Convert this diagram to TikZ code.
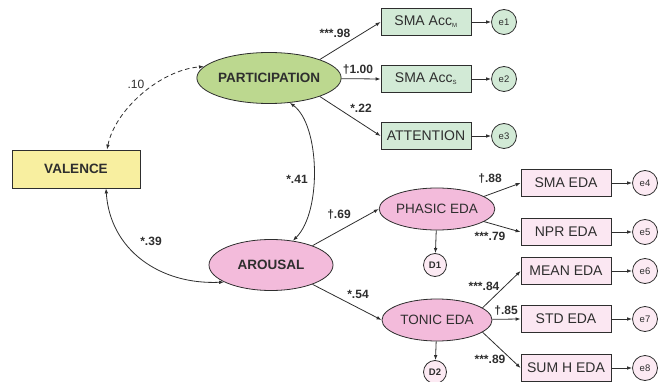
\documentclass[tikz,border=0pt]{standalone}
\usepackage{fontspec}
\setmainfont{Liberation Sans}
\usetikzlibrary{shapes.geometric,arrows.meta}
\definecolor{ink}{HTML}{2E2E2E}
\definecolor{valfill}{HTML}{F8EFA0}
\definecolor{greenell}{HTML}{BCD88F}
\definecolor{greenbox}{HTML}{D2EAD6}
\definecolor{pinkell}{HTML}{F3BBDB}
\definecolor{pinkbox}{HTML}{FBE7F2}
\definecolor{pinkerr}{HTML}{FCEAF3}
\tikzset{
  tip/.style={-{Latex[length=5pt,width=3.6pt]}},
  dtip/.style={{Latex[length=5pt,width=3.6pt]}-{Latex[length=5pt,width=3.6pt]}},
  conn/.style={draw=ink,line width=0.8pt},
  latent/.style={ellipse,draw=ink,line width=0.8pt,inner sep=0pt,text=ink,
    font=\fontsize{13.5}{16}\selectfont\bfseries},
  latentr/.style={ellipse,draw=ink,line width=0.8pt,inner sep=0pt,text=ink,fill=pinkell,
    minimum width=110pt,minimum height=42pt,font=\fontsize{13.5}{16}\selectfont},
  gbox/.style={rectangle,draw=ink,line width=0.8pt,fill=greenbox,minimum width=90pt,
    minimum height=27pt,inner sep=0pt,text=ink,font=\fontsize{14}{16}\selectfont},
  pbox/.style={gbox,fill=pinkbox},
  gerr/.style={circle,draw=ink,line width=0.8pt,fill=greenbox,minimum size=25pt,
    inner sep=0pt,text=ink,font=\fontsize{9.5}{10}\selectfont},
  perr/.style={gerr,fill=pinkerr},
  dist/.style={gerr,fill=pinkerr,minimum size=23pt,font=\fontsize{9.5}{10}\selectfont\bfseries},
  lab/.style={text=ink,inner sep=0pt,font=\fontsize{12}{13}\selectfont\bfseries},
}
\begin{document}
\begin{tikzpicture}[x=1pt,y=-1pt]
\useasboundingbox (0,0) rectangle (658,382);
% latent and observed nodes
\node[rectangle,draw=ink,line width=0.8pt,fill=valfill,minimum width=128pt,minimum height=38pt,
  inner sep=0pt,text=ink,font=\fontsize{13.5}{16}\selectfont\bfseries] (val) at (76,169) {VALENCE};
\node[latent,fill=greenell,minimum width=120pt,minimum height=51pt] (part) at (269,78) {PARTICIPATION};
\node[latent,fill=pinkell,minimum width=124pt,minimum height=51pt] (aro) at (271,265) {AROUSAL};
\node[latentr] (pha) at (437,209) {PHASIC EDA};
\node[latentr] (ton) at (437,320) {TONIC EDA};

\node[gbox] (accm) at (426,22) {SMA Acc\textsubscript{\fontsize{6}{7}\selectfont M}};
\node[gbox] (accs) at (426,79) {SMA Acc\textsubscript{\fontsize{6}{7}\selectfont S}};
\node[gbox] (att) at (426,136) {ATTENTION};
\node[pbox] (smaeda) at (566,183) {SMA EDA};
\node[pbox] (npr) at (566,232) {NPR EDA};
\node[pbox] (mean) at (566,271) {MEAN EDA};
\node[pbox] (std) at (566,319) {STD EDA};
\node[pbox] (sumh) at (566,368) {SUM H EDA};

\node[gerr] (e1) at (504,22) {e1};
\node[gerr] (e2) at (504,79) {e2};
\node[gerr] (e3) at (504,136) {e3};
\node[perr] (e4) at (645,183) {e4};
\node[perr] (e5) at (645,232) {e5};
\node[perr] (e6) at (645,271) {e6};
\node[perr] (e7) at (645,319) {e7};
\node[perr] (e8) at (645,368) {e8};
\node[dist] (d1) at (435,265) {D1};
\node[dist] (d2) at (435,372) {D2};

% covariances
\draw[conn,dtip,dashed,dash pattern=on 4.5pt off 3pt] ([xshift=31pt]val.north)
  .. controls (115,110) and (160,70) .. (part.170);
\draw[conn,dtip] (part.-50) .. controls (320,125) and (322,212) .. (aro.48);
\draw[conn,dtip] ([xshift=30pt]val.south) .. controls (110,250) and (160,285) .. (aro.200);

% paths
\draw[conn,tip] (part.20) -- (accm.west);
\draw[conn,tip] (part) -- (accs.west);
\draw[conn,tip] (part.-20) -- (att.west);
\draw[conn,tip] (aro.25) -- (pha.west);
\draw[conn,tip] (aro.-25) -- (ton.west);
\draw[conn,tip] (pha.15) -- (smaeda.west);
\draw[conn,tip] (pha.-15) -- (npr.west);
\draw[conn,tip] (pha) -- (d1);
\draw[conn,tip] (ton.15) -- (mean.west);
\draw[conn,tip] (ton) -- (std.west);
\draw[conn,tip] (ton.-15) -- (sumh.west);
\draw[conn,tip] (ton) -- (d2);

% errors
\draw[conn,tip] (accm) -- (e1);
\draw[conn,tip] (accs) -- (e2);
\draw[conn,tip] (att) -- (e3);
\draw[conn,tip] (smaeda) -- (e4);
\draw[conn,tip] (npr) -- (e5);
\draw[conn,tip] (mean) -- (e6);
\draw[conn,tip] (std) -- (e7);
\draw[conn,tip] (sumh) -- (e8);

% labels
\node[lab,font=\fontsize{12}{13}\selectfont] (l10) at (136,84) {.10};
\node[lab] (l41) at (297,179) {*.41};
\node[lab] (l39) at (151,241) {*.39};
\node[lab] (l98) at (335,33) {***.98};
\node[lab] (l100) at (358,70) {†1.00};
\node[lab] (l22) at (361,108) {*.22};
\node[lab] (l69) at (339,215) {†.69};
\node[lab] (l54) at (358,294) {*.54};
\node[lab] (l88) at (490,179) {†.88};
\node[lab] (l79) at (490,236) {***.79};
\node[lab] (l84) at (484,286) {***.84};
\node[lab] (l85) at (506,311) {†.85};
\node[lab] (l89) at (490,359) {***.89};
\end{tikzpicture}
\end{document}
